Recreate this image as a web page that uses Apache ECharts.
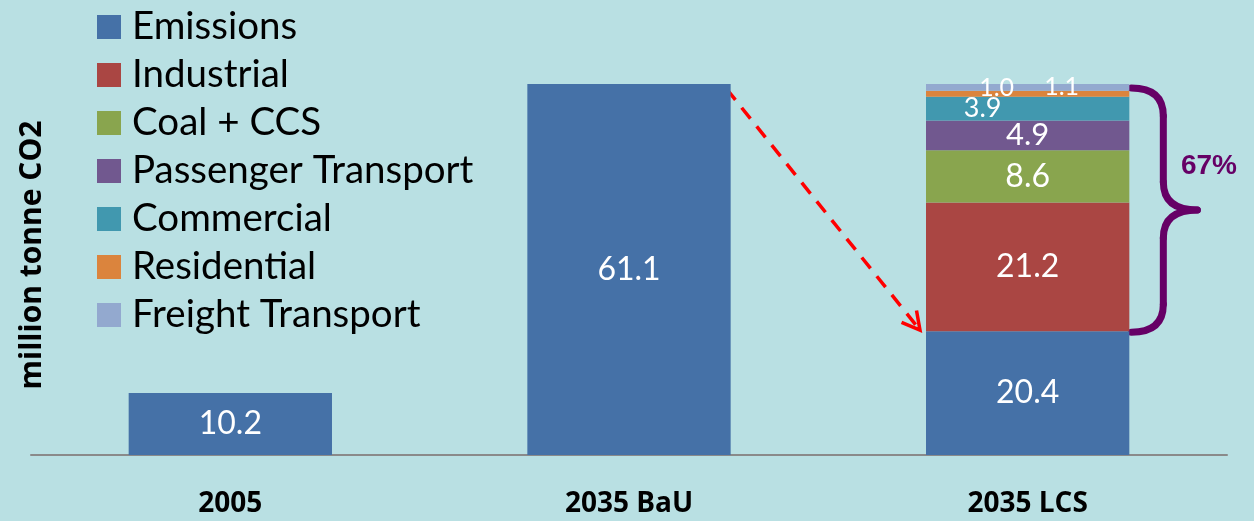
<!DOCTYPE html>
<html>
<head>
<meta charset="utf-8">
<script src="https://cdn.jsdelivr.net/npm/echarts@6/dist/echarts.min.js"></script>
<style>
  html, body { margin: 0; padding: 0; background: #b9e0e3; }
  #chart { width: 1254px; height: 521px; }
</style>
</head>
<body>
<div id="chart"></div>
<script>
const categories = ["2005", "2035 BaU", "2035 LCS"];
const seriesNames = ["Emissions", "Industrial", "Coal + CCS", "Passenger Transport", "Commercial", "Residential", "Freight Transport"];
const emissions = [10.2, 61.1, 20.4];
const industrial = [null, null, 21.2];
const coalCcs = [null, null, 8.6];
const passenger = [null, null, 4.9];
const commercial = [null, null, 3.9];
const residential = [null, null, 1.0];
const freight = [null, null, 1.1];
const reductionLabel = "67%";

const colors = ["#4571a7", "#aa4643", "#89a54e", "#71588f", "#4198af", "#db843d", "#93a9cf"];
const seriesData = [emissions, industrial, coalCcs, passenger, commercial, residential, freight];

// label sizes/offsets for the thin slices on the LCS bar
const labelStyle = [
  { fontSize: 32, offset: [0, 0] },
  { fontSize: 32, offset: [0, 0] },
  { fontSize: 32, offset: [0, 0] },
  { fontSize: 31, offset: [0, 0] },
  { fontSize: 27, offset: [-45, 0] },
  { fontSize: 25, offset: [-31, -6] },
  { fontSize: 25, offset: [34, 0] },
];

const chart = echarts.init(document.getElementById("chart"), null, { renderer: "canvas" });

const option = {
  backgroundColor: "#b9e0e3",
  animation: false,
  grid: { left: 31, right: 27, top: 84, bottom: 66 },
  legend: {
    orient: "vertical",
    left: 92,
    top: -2,
    icon: "rect",
    itemWidth: 24,
    itemHeight: 24,
    itemGap: 0,
    selectedMode: false,
    data: seriesNames,
    textStyle: {
      fontFamily: "Lato",
      fontSize: 38.5,
      lineHeight: 48,
      color: "#000",
      padding: [0, 0, 0, 6],
    },
  },
  xAxis: {
    type: "category",
    data: categories,
    axisLine: { lineStyle: { color: "#8a8a8a", width: 2 } },
    axisTick: { show: false },
    axisLabel: {
      margin: 35,
      fontFamily: "Open Sans",
      fontWeight: "bold",
      fontSize: 28,
      color: "#000",
    },
  },
  yAxis: {
    type: "value",
    min: 0,
    max: 61.1,
    show: false,
  },
  series: seriesNames.map((name, i) => ({
    name,
    type: "bar",
    stack: "total",
    barWidth: "51%",
    data: seriesData[i],
    itemStyle: { color: colors[i] },
    label: {
      show: true,
      position: "inside",
      color: "#fff",
      fontFamily: "Lato",
      fontSize: labelStyle[i].fontSize,
      offset: labelStyle[i].offset,
      formatter: (p) => p.value.toFixed(1),
    },
  })),
};
chart.setOption(option);

// annotations placed from the axis scales
const px = (i, v) => chart.convertToPixel({ xAxisIndex: 0, yAxisIndex: 0 }, [i, v]);
const band = px(1, 0)[0] - px(0, 0)[0];
const half = band * 0.51 / 2;
const lcsTotal = seriesData.reduce((s, arr) => s + (arr[2] || 0), 0);

const start = px(1, emissions[1]);
start[0] += half - 4;
start[1] += 5;
const end = px(2, emissions[2]);
end[0] -= half + 6;
end[1] -= 1;
const dx = end[0] - start[0], dy = end[1] - start[1];
const len = Math.hypot(dx, dy);
const ux = dx / len, uy = dy / len;
const head = (ang) => {
  const c = Math.cos(ang), s = Math.sin(ang);
  return [end[0] - 20 * (ux * c - uy * s), end[1] - 20 * (ux * s + uy * c)];
};
const h1 = head(0.5), h2 = head(-0.5);

const bTop = px(2, lcsTotal)[1] + 4;
const bBot = px(2, emissions[2])[1] + 1;
const bMid = (bTop + bBot) / 2;
const x0 = px(2, 0)[0] + half + 2;
const x1 = x0 + 32;
const x2 = x0 + 66;
const r = 28;
const brace = { stroke: "#660066", lineWidth: 7, fill: null, lineCap: "round" };
const curve = (ax, ay, cx, cy, bx, by) => ({
  type: "bezierCurve",
  shape: { x1: ax, y1: ay, cpx1: cx, cpy1: cy, x2: bx, y2: by },
  style: brace,
});
const seg = (ax, ay, bx, by) => ({
  type: "line",
  shape: { x1: ax, y1: ay, x2: bx, y2: by },
  style: brace,
});

chart.setOption({
  graphic: [
    {
      type: "text",
      x: 32,
      y: 255,
      rotation: Math.PI / 2,
      style: {
        text: "million tonne CO2",
        fontFamily: "Open Sans",
        fontWeight: "bold",
        fontSize: 30,
        fill: "#000",
        align: "center",
        verticalAlign: "middle",
      },
    },
    {
      type: "line",
      shape: { x1: start[0], y1: start[1], x2: end[0], y2: end[1] },
      style: { stroke: "#ff0000", lineWidth: 3.5, lineDash: [14, 10] },
    },
    {
      type: "polyline",
      shape: { points: [h1, end, h2] },
      style: { stroke: "#ff0000", lineWidth: 3.5, fill: null },
    },
    curve(x0, bTop, x1, bTop, x1, bTop + r),
    seg(x1, bTop + r, x1, bMid - r),
    curve(x1, bMid - r, x1, bMid, x2, bMid),
    curve(x2, bMid, x1, bMid, x1, bMid + r),
    seg(x1, bMid + r, x1, bBot - r),
    curve(x1, bBot - r, x1, bBot, x0, bBot),
    {
      type: "text",
      x: 1209,
      y: 166,
      style: {
        text: reductionLabel,
        fontFamily: "Liberation Sans",
        fontWeight: "bold",
        fontSize: 28,
        fill: "#660066",
        align: "center",
        verticalAlign: "middle",
      },
    },
  ],
});
</script>
</body>
</html>
